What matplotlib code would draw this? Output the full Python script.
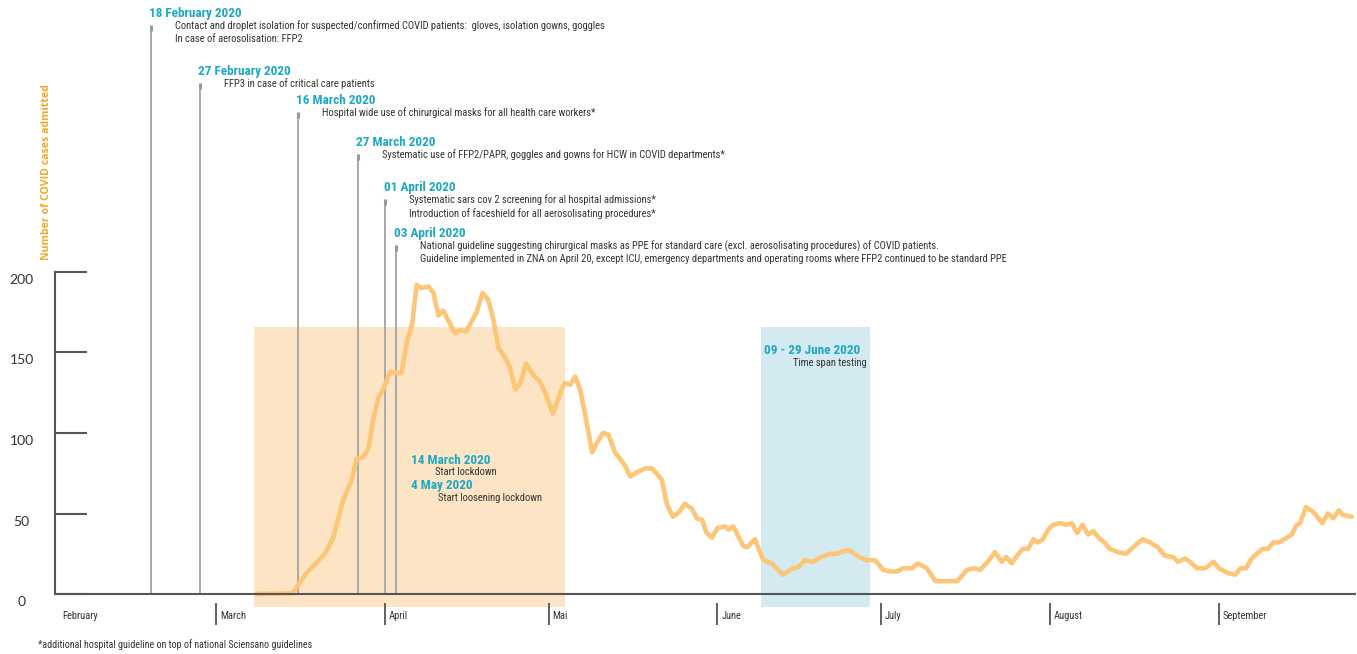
import matplotlib
matplotlib.use("Agg")
import matplotlib.pyplot as plt
from matplotlib import font_manager
from matplotlib.transforms import ScaledTranslation

# ---------------- data ----------------
# day offset since 1 February 2020
day = [36.5, 43, 45.6, 49, 50.5, 52.3, 53.9, 54.8, 56, 57, 57.8, 58.8, 59.6, 61, 63, 64, 65,
       65.8, 66.7, 68, 68.9, 69.8, 70.7, 72.8, 73.8, 74.9, 76.8, 77.9, 78.9, 79.8, 80.8, 82,
       82.9, 83.9, 84.8, 85.9, 87.2, 88.4, 89.4, 90.8, 92.4, 93, 94, 94.9, 95.8, 96.7, 98,
       98.9, 100, 101, 102.2, 104, 105, 106.5, 107.7, 109, 110.8, 111.7, 112.8, 114, 115,
       116.3, 117.2, 118.2, 119, 120, 121, 122.4, 123, 123.9, 125.7, 126.4, 127.9, 129.4,
       131, 133, 134.9, 136, 137, 138.5, 140, 141.7, 142.9, 144.4, 145.3, 147, 148.4, 149.9,
       151.4, 152.7, 154, 155, 156.7, 157.8, 159.4, 161, 165, 166.8, 168, 169.2, 170.6,
       171.9, 173.2, 174, 175, 176, 177, 178, 179, 179.8, 180.7, 181.7, 182.6, 183.9, 185,
       186, 187, 188, 189, 190, 191.2, 192, 193, 194.5, 196, 197.6, 199, 200.4, 201.8, 203,
       204.6, 205.5, 206.8, 207.7, 209, 210.5, 212, 213, 214.7, 216, 217, 218, 219, 221, 222,
       223, 224, 225.5, 226.4, 227.3, 227.9, 229, 230.3, 232, 233, 234, 235, 235.8, 237.4]
admitted = [0, 0.5, 13, 25, 35, 58, 71, 84, 85, 91, 108, 122, 127, 138, 137, 156, 168,
            192, 190, 191, 187, 173, 176, 162, 164, 163, 175, 187, 183, 172, 153, 147,
            141, 127, 131, 143, 136, 132, 125, 112, 127, 131, 130, 135, 127, 112, 88,
            94, 100, 99, 88, 80, 73, 76, 78, 78, 71, 56, 48, 51, 56,
            53, 47, 46, 38, 35, 41, 42, 40, 42, 30, 29, 34, 21,
            19, 12, 16, 17, 21, 20, 23, 25, 25, 27, 27, 23, 21, 21,
            15, 14, 14, 16, 16, 19, 16, 8, 8, 15, 16, 15, 20,
            26, 20, 23, 19, 24, 28, 28, 34, 32, 34, 40, 43, 44, 43,
            44, 38, 43, 37, 39, 34, 32, 28, 26, 25, 30, 34, 32, 29, 24,
            23, 20, 22, 20, 16, 16, 20, 16, 13, 12, 16, 16, 22, 28, 28,
            32, 32, 35, 37, 43, 44, 54, 51, 44, 50, 47, 52, 49, 48]

month_names = ["February", "March", "April", "Mai", "June", "July", "August", "September"]
month_start = [0, 29, 60, 90, 121, 151, 182, 213]

yticks = [0, 50, 100, 150, 200]

event_day = [17, 26, 44, 55, 60, 62]
event_title = ["18 February 2020", "27 February 2020", "16 March 2020",
               "27 March 2020", "01 April 2020", "03 April 2020"]
event_text = [
    "Contact and droplet isolation for suspected/confirmed COVID patients:  gloves, isolation gowns, goggles\nIn case of aerosolisation: FFP2",
    "FFP3 in case of critical care patients",
    "Hospital wide use of chirurgical masks for all health care workers*",
    "Systematic use of FFP2/PAPR, goggles and gowns for HCW in COVID departments*",
    "Systematic sars cov 2 screening for al hospital admissions*\nIntroduction of faceshield for all aerosolisating procedures*",
    "National guideline suggesting chirurgical masks as PPE for standard care (excl. aerosolisating procedures) of COVID patients.\nGuideline implemented in ZNA on April 20, except ICU, emergency departments and operating rooms where FFP2 continued to be standard PPE",
]

lockdown_span = [36, 93]     # shaded period (days since 1 Feb)
testing_span = [129, 149]    # 09 - 29 June

# ---------------- fonts ----------------
fl = font_manager.fontManager.ttflist
names = {f.name for f in fl}
STRETCH = "normal"
FONT = None
for cand in ["Liberation Sans Narrow", "Roboto Condensed", "Open Sans Condensed",
             "Noto Sans Condensed", "Ubuntu Condensed", "Fira Sans Condensed",
             "DejaVu Sans Condensed", "Arial Narrow"]:
    if cand in names:
        FONT = cand
        break
if FONT is None:
    for fam in ["Noto Sans", "Open Sans", "DejaVu Sans", "Roboto"]:
        if any(f.name == fam and f.stretch in ("condensed", "semi-condensed", "extra-condensed")
               for f in fl):
            FONT, STRETCH = fam, "condensed"
            break
if FONT is None:
    FONT = "Lato"
plt.rcParams["font.family"] = [FONT, "DejaVu Sans"]
plt.rcParams["font.stretch"] = STRETCH
WIDE = ["Lato", "DejaVu Sans"]
WIDE_BOLD = ["Open Sans", "Noto Sans", "DejaVu Sans"]

TEAL = "#1EA8C4"
ORANGE_TXT = "#F5A623"
LINE = "#FDC676"
BOX_OR = "#FCE4C4"
BOX_BL = "#D3EAF0"
GREY = "#A9A9A9"
DARK = "#333333"
AX = "#555555"

FS_TITLE = 9.5
FS_TXT = 7.6

W, H = 1357, 654
fig = plt.figure(figsize=(W / 100, H / 100), dpi=100)
ax = fig.add_axes([0, 0, 1, 1])

# pixel mapping: px = 58 + 5.45*d ; py = 594 - 1.61*v
sx, x0 = 5.45, 58
sy, y0 = 1.61, 594
ax.set_xlim((0 - x0) / sx, (W - x0) / sx)
ax.set_ylim((y0 - H) / sy, y0 / sy)

def pxv(py):
    return (y0 - py) / sy

def pxd(px):
    return (px - x0) / sx

# boxes
box_top = pxv(327)
box_bot = pxv(607)
ax.fill_between(lockdown_span, box_bot, box_top, color=BOX_OR, lw=0, zorder=0)
ax.fill_between(testing_span, box_bot, box_top, color=BOX_BL, lw=0, zorder=0)

# event lines
line_top_px = [28, 86, 115, 157, 202, 248]
for d, tpx, title, txt in zip(event_day, line_top_px, event_title, event_text):
    top = pxv(tpx)
    ax.vlines(d, 0, top, color=GREY, lw=1.4, zorder=1)
    ax.plot([d], [top], marker="|", ms=5, mew=2.2, color="#999999", zorder=2)
    ax.annotate(title, xy=(d, top), xytext=(-1.5 * 0.72, 14 * 0.72), textcoords="offset points",
                ha="left", va="center", color=TEAL, fontsize=FS_TITLE, fontweight="bold")
    ax.annotate(txt, xy=(d, top), xytext=(24 * 0.72, 7.5 * 0.72), textcoords="offset points",
                ha="left", va="top", color=DARK, fontsize=FS_TXT, linespacing=1.3)

# data line
ax.plot(day, admitted, color=LINE, lw=3.3, solid_joinstyle="round", solid_capstyle="round", zorder=3)

# axes spines
for s in ["top", "right"]:
    ax.spines[s].set_visible(False)
ax.spines["left"].set_position(("data", pxd(55)))
ax.spines["left"].set_bounds(0, 200)
ax.spines["bottom"].set_position(("data", 0))
ax.spines["bottom"].set_bounds(pxd(55), pxd(1355))
for s in ["left", "bottom"]:
    ax.spines[s].set_color(AX)
    ax.spines[s].set_linewidth(1.5)
    ax.spines[s].set_zorder(4)

ax.set_yticks(yticks)
ax.set_yticklabels([str(t) for t in yticks])
ax.tick_params(axis="y", direction="in", length=32 * 0.72, width=1.5, color=AX,
               labelsize=10, labelcolor=DARK, pad=24)
off = ScaledTranslation(0, -7 / 100, fig.dpi_scale_trans)
for lab in ax.get_yticklabels():
    lab.set_transform(lab.get_transform() + off)
    lab.set_ha("center")
    lab.set_fontfamily(WIDE)

ax.set_xticks(month_start)
ax.set_xticklabels(month_names)
ax.tick_params(axis="x", length=0, labelsize=FS_TXT, labelcolor=DARK, pad=12)
offx = ScaledTranslation(4 / 100, 0, fig.dpi_scale_trans)
for lab in ax.get_xticklabels():
    lab.set_ha("left")
    lab.set_transform(lab.get_transform() + offx)
# month separators (no separator for February)
ax.vlines(month_start[1:], pxv(603), pxv(625), color=AX, lw=1.3)

# y label
ax.text(pxd(47), pxv(172), "Number of COVID cases admitted", rotation=90,
        ha="center", va="center", color=ORANGE_TXT, fontsize=7.6, fontweight="bold",
        fontfamily=WIDE_BOLD)

# lockdown annotations
ax.text(pxd(411), pxv(460), "14 March 2020", color=TEAL, fontsize=FS_TITLE, fontweight="bold", va="center")
ax.text(pxd(435), pxv(472), "Start lockdown", color=DARK, fontsize=FS_TXT, va="center")
ax.text(pxd(411), pxv(486), "4 May 2020", color=TEAL, fontsize=FS_TITLE, fontweight="bold", va="center")
ax.text(pxd(438), pxv(498), "Start loosening lockdown", color=DARK, fontsize=FS_TXT, va="center")

# testing annotation
ax.text(pxd(860), pxv(351), "09 - 29 June 2020", color=TEAL, fontsize=FS_TITLE,
        fontweight="bold", va="center", ha="right")
ax.text(pxd(867), pxv(363), "Time span testing", color=DARK, fontsize=FS_TXT,
        va="center", ha="right")

# footnote
ax.text(pxd(38), pxv(645), "*additional hospital guideline on top of national Sciensano guidelines",
        color=DARK, fontsize=FS_TXT * 0.95, va="center", ha="left")

fig.savefig("out.png", dpi=100)
